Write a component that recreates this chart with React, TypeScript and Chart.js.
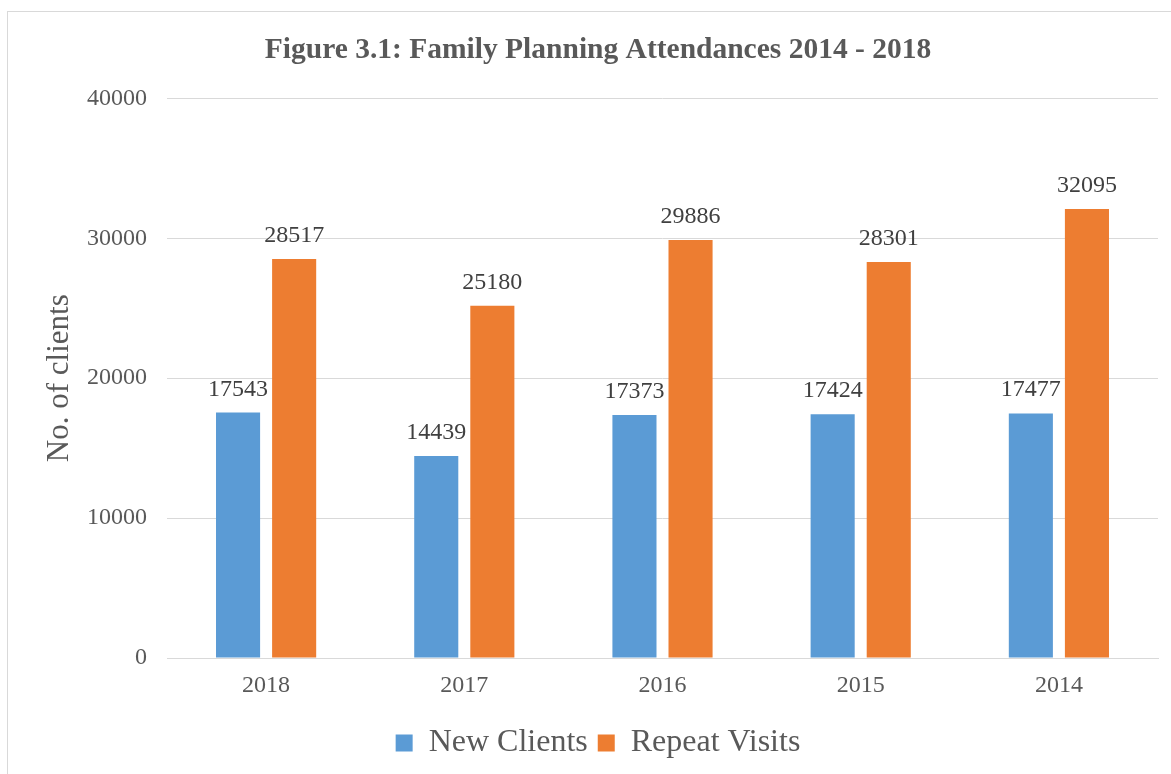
import React, { useEffect, useRef } from "react";
import { Chart, registerables } from "chart.js";

Chart.register(...registerables);

const categories = ["2018", "2017", "2016", "2015", "2014"];
const newClients = [17543, 14439, 17373, 17424, 17477];
const repeatVisits = [28517, 25180, 29886, 28301, 32095];
const yTicks = [0, 10000, 20000, 30000, 40000];

const FONT = "'Liberation Serif', 'Times New Roman', serif";
const TEXT = "#595959";

const dataLabels = {
  id: "dataLabels",
  afterDatasetsDraw(chart: any) {
    const ctx = chart.ctx;
    ctx.save();
    ctx.font = `24px ${FONT}`;
    ctx.fillStyle = "#404040";
    ctx.textAlign = "center";
    ctx.textBaseline = "alphabetic";
    chart.data.datasets.forEach((ds: any, i: number) => {
      const meta = chart.getDatasetMeta(i);
      meta.data.forEach((bar: any, j: number) => {
        ctx.fillText(String(ds.data[j]), bar.x, bar.y - 17);
      });
    });
    ctx.restore();
  },
};

export default function App() {
  const ref = useRef<HTMLCanvasElement | null>(null);
  useEffect(() => {
    if (!ref.current) return;
    Chart.defaults.font.family = FONT;
    const chart = new Chart(ref.current, {
      type: "bar",
      data: {
        labels: categories,
        datasets: [
          {
            label: "New Clients",
            data: newClients,
            backgroundColor: "#5B9BD5",
            barPercentage: 0.786,
            categoryPercentage: 0.566,
          },
          {
            label: "Repeat Visits",
            data: repeatVisits,
            backgroundColor: "#ED7D31",
            barPercentage: 0.786,
            categoryPercentage: 0.566,
          },
        ],
      },
      options: {
        animation: false,
        responsive: false,
        layout: { padding: { left: 38, right: 38, top: 0, bottom: 5 } },
        plugins: {
          title: {
            display: true,
            text: "Figure 3.1: Family Planning Attendances 2014 - 2018",
            color: TEXT,
            font: { size: 29.5, weight: "bold", family: FONT },
            padding: { top: 33, bottom: 30 },
          },
          legend: {
            position: "bottom",
            labels: {
              boxWidth: 17,
              boxHeight: 17,
              color: TEXT,
              font: { size: 32, family: FONT },
              padding: 10,
            },
          },
          tooltip: { enabled: false },
        },
        scales: {
          x: {
            grid: { display: false, drawTicks: false },
            border: { display: true, color: "#d9d9d9", width: 1 },
            ticks: { color: TEXT, font: { size: 24, family: FONT }, padding: 13 },
            afterFit: (s: any) => {
              s.height = 59;
            },
          },
          y: {
            min: 0,
            max: 40000,
            afterBuildTicks: (s: any) => {
              s.ticks = yTicks.map((v) => ({ value: v }));
            },
            grid: { color: "#d9d9d9", drawTicks: false, lineWidth: 1 },
            border: { display: false },
            ticks: {
              color: TEXT,
              font: { size: 24, family: FONT },
              padding: 20,
              callback: (v: any) => String(v),
            },
            title: {
              display: true,
              text: "No. of clients",
              color: TEXT,
              font: { size: 31, family: FONT },
              padding: { top: 3, bottom: 0 },
            },
            afterFit: (s: any) => {
              s.width = 129;
            },
          },
        },
      },
      plugins: [dataLabels],
    });
    return () => chart.destroy();
  }, []);

  return (
    <div
      style={{
        position: "fixed",
        left: 0,
        top: 0,
        width: 1171,
        height: 774,
        overflow: "hidden",
        background: "#fff",
      }}
    >
      <div
        style={{
          position: "absolute",
          left: 7,
          top: 11,
          width: 1200,
          height: 800,
          border: "1px solid #d9d9d9",
          boxSizing: "border-box",
        }}
      />
      <canvas
        ref={ref}
        width={1196}
        height={774}
        style={{ position: "absolute", left: 0, top: 0, width: 1196, height: 774 }}
      />
    </div>
  );
}
